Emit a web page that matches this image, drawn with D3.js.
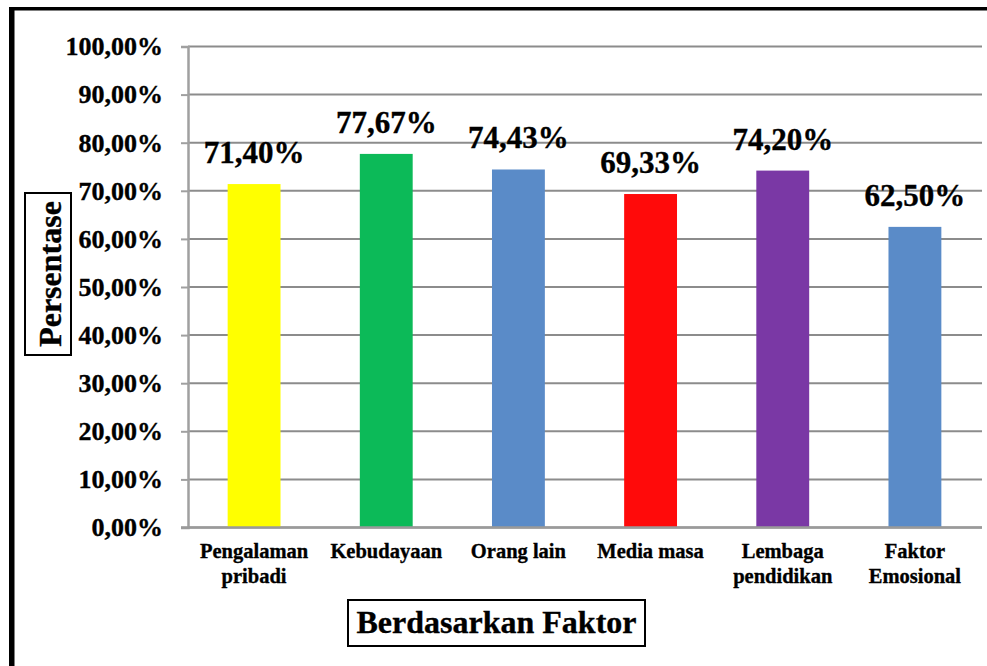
<!DOCTYPE html>
<html>
<head>
<meta charset="utf-8">
<script src="https://cdn.jsdelivr.net/npm/d3@7"></script>
<style>
  html, body { margin: 0; padding: 0; background: #fff; }
  svg { display: block; }
  svg text { font-family: "Liberation Serif", "Tinos", "Times New Roman", "DejaVu Serif", serif !important; font-weight: bold; fill: #000; stroke: #000; stroke-width: 0.35px; }
</style>
</head>
<body>
<svg id="chart" width="987" height="666"></svg>
<script>
const categories = ["Pengalaman pribadi", "Kebudayaan", "Orang lain", "Media masa", "Lembaga pendidikan", "Faktor Emosional"];
const categoryLines = [["Pengalaman", "pribadi"], ["Kebudayaan"], ["Orang lain"], ["Media masa"], ["Lembaga", "pendidikan"], ["Faktor", "Emosional"]];
const values = [71.40, 77.67, 74.43, 69.33, 74.20, 62.50];
const barColors = ["#ffff00", "#0cba58", "#5a8bc8", "#ff0a0a", "#7a38a5", "#5a8bc8"];
const yTicks = [0, 10, 20, 30, 40, 50, 60, 70, 80, 90, 100];
const yTitle = "Persentase";
const xTitle = "Berdasarkan Faktor";

const fmt = v => v.toFixed(2).replace(".", ",") + "%";

const svg = d3.select("#chart");
const W = 987, H = 666;
svg.append("rect").attr("width", W).attr("height", H).attr("fill", "#fff");

const x = d3.scaleBand().domain(categories).range([188, 981]).paddingInner(0.6).paddingOuter(0.3);
const y = d3.scaleLinear().domain([0, 100]).range([527.5, 46.5]);

// gridlines
svg.append("g").selectAll("line").data(yTicks).join("line")
  .attr("x1", 188).attr("x2", 982)
  .attr("y1", d => y(d)).attr("y2", d => y(d))
  .attr("stroke", "#8c8c8c").attr("stroke-width", 2);

// y axis
const yAxis = d3.axisLeft(y).tickValues(yTicks).tickFormat(fmt).tickSize(7).tickPadding(18);
const gy = svg.append("g").attr("transform", "translate(188,0)").call(yAxis).attr("font-family", null);
gy.select(".domain").attr("stroke", "#a0a0a0").attr("stroke-width", 2.5);
gy.selectAll(".tick line").attr("stroke", "#a0a0a0").attr("stroke-width", 2);
gy.selectAll(".tick text").style("font-size", "26px").attr("fill", "#000");

// bars
svg.append("g").selectAll("rect").data(values).join("rect")
  .attr("x", (d, i) => x(categories[i]))
  .attr("width", x.bandwidth())
  .attr("y", d => y(d))
  .attr("height", d => y(0) - y(d))
  .attr("fill", (d, i) => barColors[i]);

// x axis baseline
svg.append("line").attr("x1", 181).attr("x2", 982).attr("y1", y(0)).attr("y2", y(0))
  .attr("stroke", "#9a9a9a").attr("stroke-width", 2.5);

// value labels
svg.append("g").selectAll("text").data(values).join("text")
  .attr("x", (d, i) => x(categories[i]) + x.bandwidth() / 2)
  .attr("y", d => y(d) - 21)
  .attr("text-anchor", "middle")
  .style("font-size", "31px")
  .text(d => fmt(d));

// category labels
const cl = svg.append("g").selectAll("text").data(categoryLines).join("text")
  .attr("x", (d, i) => x(categories[i]) + x.bandwidth() / 2)
  .attr("y", 558)
  .attr("text-anchor", "middle")
  .style("font-size", "20.5px");
cl.selectAll("tspan").data(d => d).join("tspan")
  .attr("x", function() { return d3.select(this.parentNode).attr("x"); })
  .attr("dy", (d, i) => i === 0 ? 0 : 25)
  .text(d => d);

// x title box
svg.append("rect").attr("x", 348).attr("y", 600).attr("width", 297).attr("height", 46)
  .attr("fill", "none").attr("stroke", "#000").attr("stroke-width", 2);
svg.append("text").attr("x", 496.5).attr("y", 633).attr("text-anchor", "middle")
  .style("font-size", "32px").text(xTitle);

// y title box
svg.append("rect").attr("x", 25).attr("y", 193).attr("width", 46).attr("height", 162)
  .attr("fill", "none").attr("stroke", "#000").attr("stroke-width", 2);
svg.append("text").attr("transform", "translate(61,274) rotate(-90)").attr("text-anchor", "middle")
  .style("font-size", "32px").text(yTitle);

// outer frame (top and left edges)
svg.append("rect").attr("x", 9).attr("y", 7).attr("width", W - 9).attr("height", 3.5).attr("fill", "#000");
svg.append("rect").attr("x", 9).attr("y", 7).attr("width", 5.5).attr("height", H - 7).attr("fill", "#000");
</script>
</body>
</html>
